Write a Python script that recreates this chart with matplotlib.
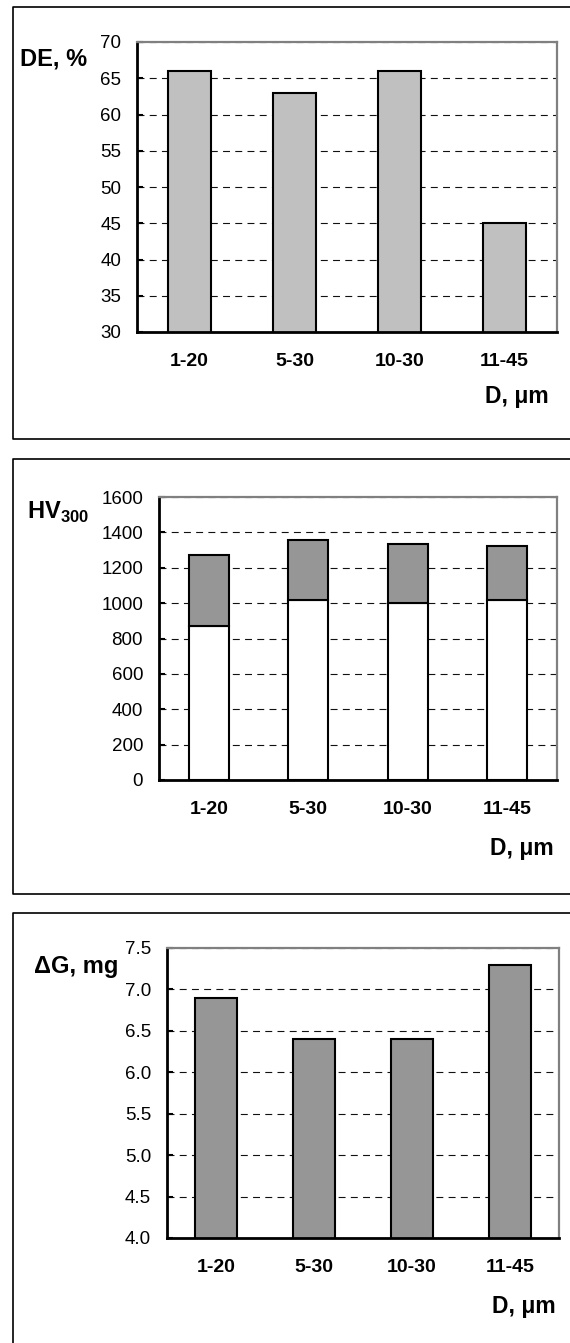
import matplotlib
matplotlib.use('Agg')
from matplotlib import pyplot as plt
from matplotlib.lines import Line2D
from matplotlib.ticker import FormatStrFormatter

# 配置环境
plt.rcParams['font.family'] = ['Liberation Sans', 'DejaVu Sans']
plt.rcParams['mathtext.fontset'] = 'custom'
plt.rcParams['mathtext.rm'] = 'Liberation Sans'
plt.rcParams['mathtext.bf'] = 'Liberation Sans:bold'
plt.rcParams['lines.scale_dashes'] = False

# 数据
sizes = ['1-20', '5-30', '10-30', '11-45']
de_percent = [66, 63, 66, 45]
hv_lower = [870, 1020, 1000, 1020]
hv_upper = [400, 335, 335, 305]
delta_g = [6.9, 6.4, 6.4, 7.3]

W, H = 570, 1343
fig = plt.figure(figsize=(W / 100, H / 100), dpi=100)


def px_axes(l, r, t, b):
    return fig.add_axes([l / W, 1 - b / H, (r - l) / W, (b - t) / H])


def frame_box(top, bottom):
    # 外框（右侧被裁掉）
    xs = [600 / W, 13 / W, 13 / W, 600 / W]
    ys = [1 - top / H, 1 - top / H, 1 - bottom / H, 1 - bottom / H]
    fig.add_artist(Line2D(xs, ys, color='black', lw=1.2, transform=fig.transFigure))


def style_axes(ax, ymin, ymax, step, fmt):
    ax.set_xlim(-0.5, 3.5)
    ax.set_ylim(ymin, ymax)
    ticks = []
    v = ymin
    while v <= ymax + 1e-9:
        ticks.append(v)
        v += step
    ax.set_yticks(ticks)
    ax.yaxis.set_major_formatter(FormatStrFormatter(fmt))
    ax.set_xticks(range(len(sizes)))
    ax.set_xticklabels(sizes, fontsize=14, fontweight='bold')
    ax.tick_params(axis='x', length=0, pad=15)
    ax.tick_params(axis='y', direction='in', length=4, width=1.5, pad=11.5, labelsize=13.5)
    for s in ['left', 'bottom']:
        ax.spines[s].set_linewidth(2)
        ax.spines[s].set_color('black')
    for s in ['top', 'right']:
        ax.spines[s].set_linewidth(1.6)
        ax.spines[s].set_color('#808080')
    ax.set_axisbelow(True)
    ax.yaxis.grid(True, color='#111111', lw=0.8, linestyle=(0, (5, 3.8)))


# 图1：DE
frame_box(7, 439)
ax1 = px_axes(137, 557, 42, 332)
ax1.bar(range(len(sizes)), de_percent, width=0.41, color='#C0C0C0', edgecolor='black', linewidth=1.5)
style_axes(ax1, 30, 70, 5, '%d')
fig.text(20 / W, 1 - 59 / H, 'DE, %', fontsize=17, fontweight='bold', ha='left', va='center')
fig.text(549 / W, 1 - 397 / H, 'D, μm', fontsize=16.5, fontweight='bold', ha='right', va='center')

# 图2：HV300（堆叠）
frame_box(459, 894)
ax2 = px_axes(159, 557, 497, 780)
ax2.bar(range(len(sizes)), hv_lower, width=0.40, color='white', edgecolor='black', linewidth=1.5)
ax2.bar(range(len(sizes)), hv_upper, bottom=hv_lower, width=0.40, color='#969696',
        edgecolor='black', linewidth=1.5)
style_axes(ax2, 0, 1600, 200, '%d')
fig.text(27 / W, 1 - 512 / H, r'HV$_{\mathbf{300}}$', fontsize=17, fontweight='bold',
         ha='left', va='center')
fig.text(554 / W, 1 - 848 / H, 'D, μm', fontsize=16.5, fontweight='bold', ha='right', va='center')

# 图3：ΔG
frame_box(913, 1400)
ax3 = px_axes(167, 559, 948, 1238)
ax3.bar(range(len(sizes)), delta_g, width=0.42, color='#969696', edgecolor='black', linewidth=1.5)
style_axes(ax3, 4.0, 7.5, 0.5, '%.1f')
fig.text(34 / W, 1 - 967 / H, 'ΔG, mg', fontsize=17, fontweight='bold', ha='left', va='center')
fig.text(556 / W, 1 - 1307 / H, 'D, μm', fontsize=16.5, fontweight='bold', ha='right', va='center')

fig.savefig('out.png', dpi=100)
